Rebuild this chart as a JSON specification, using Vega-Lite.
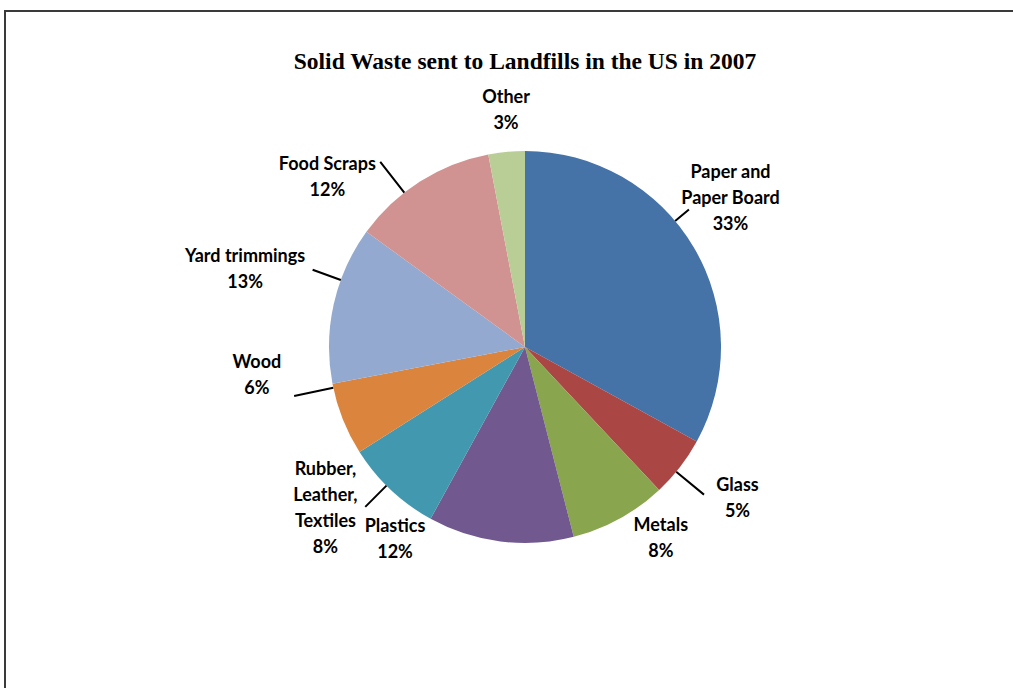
{
  "$schema": "https://vega.github.io/schema/vega-lite/v6.json",
  "autosize": {"type": "none"},
  "padding": {"left": 5, "top": 11, "right": 0, "bottom": 0},
  "width": 1040,
  "height": 700,
  "background": "white",
  "view": {"stroke": "#3a3a3a", "strokeWidth": 2},
  "config": {"view": {"stroke": "#3a3a3a", "strokeWidth": 2}},
  "title": {
    "text": "Solid Waste sent to Landfills in the US in 2007",
    "font": "Liberation Serif",
    "fontSize": 23.5,
    "fontWeight": "bold",
    "color": "black",
    "anchor": "middle",
    "frame": "group",
    "offset": -67
  },
  "data": {
    "values": [
      {"i": 1, "category": "Paper and Paper Board", "value": 33, "label": "Paper and\nPaper Board\n33%"},
      {"i": 2, "category": "Glass", "value": 5, "label": "Glass\n5%"},
      {"i": 3, "category": "Metals", "value": 8, "label": "Metals\n8%"},
      {"i": 4, "category": "Plastics", "value": 12, "label": "Plastics\n12%"},
      {"i": 5, "category": "Rubber, Leather, Textiles", "value": 8, "label": "Rubber,\nLeather,\nTextiles\n8%"},
      {"i": 6, "category": "Wood", "value": 6, "label": "Wood\n6%"},
      {"i": 7, "category": "Yard trimmings", "value": 13, "label": "Yard trimmings\n13%"},
      {"i": 8, "category": "Food Scraps", "value": 12, "label": "Food Scraps\n12%"},
      {"i": 9, "category": "Other", "value": 3, "label": "Other\n3%"}
    ]
  },
  "encoding": {
    "theta": {"field": "value", "type": "quantitative", "stack": true},
    "order": {"field": "i", "type": "quantitative"}
  },
  "layer": [
    {
      "mark": {"type": "arc", "outerRadius": 196, "yOffset": -14},
      "encoding": {
        "color": {
          "field": "category",
          "type": "nominal",
          "scale": {
            "domain": ["Paper and Paper Board", "Glass", "Metals", "Plastics", "Rubber, Leather, Textiles", "Wood", "Yard trimmings", "Food Scraps", "Other"],
            "range": ["#4572A7", "#AA4643", "#89A54E", "#71588F", "#4198AF", "#DB843D", "#93A9CF", "#D19392", "#B9CD96"]
          },
          "legend": null
        }
      }
    },
    {
      "mark": {"type": "arc", "innerRadius": 196, "outerRadius": 214, "padAngle": 3, "thetaOffset": -0.164, "yOffset": -14, "fillOpacity": 0, "stroke": "black", "strokeWidth": 2},
      "encoding": {"strokeOpacity": {"condition": {"test": "datum.category === 'Paper and Paper Board'", "value": 1}, "value": 0}}
    },
    {
      "mark": {"type": "arc", "innerRadius": 196, "outerRadius": 232, "padAngle": 3, "thetaOffset": 0.03, "yOffset": -14, "fillOpacity": 0, "stroke": "black", "strokeWidth": 2},
      "encoding": {"strokeOpacity": {"condition": {"test": "datum.category === 'Glass'", "value": 1}, "value": 0}}
    },
    {
      "mark": {"type": "arc", "innerRadius": 196, "outerRadius": 226, "padAngle": 3, "thetaOffset": 0.031, "yOffset": -14, "fillOpacity": 0, "stroke": "black", "strokeWidth": 2},
      "encoding": {"strokeOpacity": {"condition": {"test": "datum.category === 'Rubber, Leather, Textiles'", "value": 1}, "value": 0}}
    },
    {
      "mark": {"type": "arc", "innerRadius": 196, "outerRadius": 236, "padAngle": 3, "thetaOffset": 0.168, "yOffset": -14, "fillOpacity": 0, "stroke": "black", "strokeWidth": 2},
      "encoding": {"strokeOpacity": {"condition": {"test": "datum.category === 'Wood'", "value": 1}, "value": 0}}
    },
    {
      "mark": {"type": "arc", "innerRadius": 196, "outerRadius": 226, "padAngle": 3, "thetaOffset": 0.129, "yOffset": -14, "fillOpacity": 0, "stroke": "black", "strokeWidth": 2},
      "encoding": {"strokeOpacity": {"condition": {"test": "datum.category === 'Yard trimmings'", "value": 1}, "value": 0}}
    },
    {
      "mark": {"type": "arc", "innerRadius": 196, "outerRadius": 235, "padAngle": 3, "thetaOffset": -0.098, "yOffset": -14, "fillOpacity": 0, "stroke": "black", "strokeWidth": 2},
      "encoding": {"strokeOpacity": {"condition": {"test": "datum.category === 'Food Scraps'", "value": 1}, "value": 0}}
    },
    {
      "mark": {"type": "text", "radius": 255, "yOffset": -14, "dx": -14, "dy": -44, "font": "Lato", "fontSize": 18, "fontWeight": "bold", "lineBreak": "\n", "lineHeight": 26, "color": "black"},
      "encoding": {"text": {"condition": {"test": "datum.category === 'Paper and Paper Board'", "field": "label"}, "value": ""}}
    },
    {
      "mark": {"type": "text", "radius": 255, "yOffset": -14, "dx": 11, "dy": -17, "font": "Lato", "fontSize": 18, "fontWeight": "bold", "lineBreak": "\n", "lineHeight": 26, "color": "black"},
      "encoding": {"text": {"condition": {"test": "datum.category === 'Glass'", "field": "label"}, "value": ""}}
    },
    {
      "mark": {"type": "text", "radius": 255, "yOffset": -14, "dx": 13, "dy": -44, "font": "Lato", "fontSize": 18, "fontWeight": "bold", "lineBreak": "\n", "lineHeight": 26, "color": "black"},
      "encoding": {"text": {"condition": {"test": "datum.category === 'Metals'", "field": "label"}, "value": ""}}
    },
    {
      "mark": {"type": "text", "radius": 255, "yOffset": -14, "dx": -98, "dy": -73, "font": "Lato", "fontSize": 18, "fontWeight": "bold", "lineBreak": "\n", "lineHeight": 26, "color": "black"},
      "encoding": {"text": {"condition": {"test": "datum.category === 'Plastics'", "field": "label"}, "value": ""}}
    },
    {
      "mark": {"type": "text", "radius": 255, "yOffset": -14, "dx": -25, "dy": -63, "font": "Lato", "fontSize": 18, "fontWeight": "bold", "lineBreak": "\n", "lineHeight": 26, "color": "black"},
      "encoding": {"text": {"condition": {"test": "datum.category === 'Rubber, Leather, Textiles'", "field": "label"}, "value": ""}}
    },
    {
      "mark": {"type": "text", "radius": 255, "yOffset": -14, "dx": -31, "dy": -78, "font": "Lato", "fontSize": 18, "fontWeight": "bold", "lineBreak": "\n", "lineHeight": 26, "color": "black"},
      "encoding": {"text": {"condition": {"test": "datum.category === 'Wood'", "field": "label"}, "value": ""}}
    },
    {
      "mark": {"type": "text", "radius": 255, "yOffset": -14, "dx": -31, "dy": -34, "font": "Lato", "fontSize": 18, "fontWeight": "bold", "lineBreak": "\n", "lineHeight": 26, "color": "black"},
      "encoding": {"text": {"condition": {"test": "datum.category === 'Yard trimmings'", "field": "label"}, "value": ""}}
    },
    {
      "mark": {"type": "text", "radius": 255, "yOffset": -14, "dx": -61, "dy": 33, "font": "Lato", "fontSize": 18, "fontWeight": "bold", "lineBreak": "\n", "lineHeight": 26, "color": "black"},
      "encoding": {"text": {"condition": {"test": "datum.category === 'Food Scraps'", "field": "label"}, "value": ""}}
    },
    {
      "mark": {"type": "text", "radius": 255, "yOffset": -14, "dx": 5, "dy": 5, "font": "Lato", "fontSize": 18, "fontWeight": "bold", "lineBreak": "\n", "lineHeight": 26, "color": "black"},
      "encoding": {"text": {"condition": {"test": "datum.category === 'Other'", "field": "label"}, "value": ""}}
    }
  ]
}
